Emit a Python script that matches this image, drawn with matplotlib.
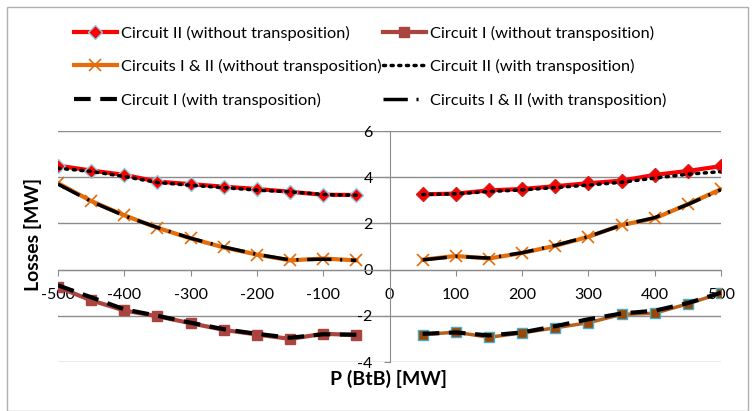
import matplotlib.pyplot as plt
from matplotlib.patches import Rectangle

# potencia BtB [MW]
p_neg = [-500, -450, -400, -350, -300, -250, -200, -150, -100, -50]
p_pos = [50, 100, 150, 200, 250, 300, 350, 400, 450, 500]

# Circuit II (without transposition)
c2_sem_neg = [4.50, 4.29, 4.10, 3.81, 3.70, 3.59, 3.49, 3.37, 3.24, 3.23]
c2_sem_pos = [3.26, 3.29, 3.43, 3.49, 3.61, 3.74, 3.85, 4.10, 4.27, 4.48]
# Circuit I (without transposition)
c1_sem_neg = [-0.76, -1.33, -1.77, -2.02, -2.32, -2.61, -2.81, -3.00, -2.78, -2.83]
c1_sem_pos = [-2.81, -2.71, -2.93, -2.74, -2.52, -2.30, -1.94, -1.89, -1.48, -1.02]
# Circuits I & II (without transposition)
c12_sem_neg = [3.74, 2.97, 2.35, 1.81, 1.35, 0.96, 0.65, 0.40, 0.48, 0.40]
c12_sem_pos = [0.43, 0.59, 0.48, 0.72, 1.03, 1.42, 1.93, 2.22, 2.83, 3.48]
# Circuit II (with transposition)
c2_com_neg = [4.39, 4.25, 4.03, 3.77, 3.65, 3.55, 3.44, 3.37, 3.25, 3.22]
c2_com_pos = [3.25, 3.28, 3.38, 3.45, 3.55, 3.66, 3.78, 3.96, 4.13, 4.24]
# Circuit I (with transposition)
c1_com_neg = [-0.68, -1.20, -1.72, -2.00, -2.30, -2.58, -2.78, -2.95, -2.80, -2.82]
c1_com_pos = [-2.78, -2.72, -2.85, -2.72, -2.45, -2.15, -1.90, -1.78, -1.45, -1.00]
# Circuits I & II (with transposition)
c12_com_neg = [3.70, 2.95, 2.33, 1.82, 1.36, 0.98, 0.66, 0.42, 0.45, 0.40]
c12_com_pos = [0.42, 0.57, 0.50, 0.73, 1.05, 1.43, 1.92, 2.25, 2.82, 3.46]

plt.rcParams['font.family'] = ['Lato', 'DejaVu Sans']
plt.rcParams['axes.unicode_minus'] = False

fig = plt.figure(figsize=(7.55, 4.11), dpi=100)
ax = fig.add_axes([58 / 755, 1 - 362 / 411, 663 / 755, 231 / 411])

cinza = '#8c8c8c'
azul = '#8fcde0'

# Circuit II (without transposition)
l1, = ax.plot(p_neg, c2_sem_neg, color='#ff0000', lw=3, marker='D', ms=7,
              mfc='#ff0000', mec=azul, mew=1, zorder=3)
ax.plot(p_pos, c2_sem_pos, color='#ff0000', lw=3, marker='D', ms=7,
        mfc='#ff0000', mec='#d02020', mew=1, zorder=3)
# Circuit I (without transposition)
l2, = ax.plot(p_neg, c1_sem_neg, color='#a9443f', lw=3, marker='s', ms=7,
              mfc='#a9443f', mec='#a9443f', zorder=3)
ax.plot(p_pos, c1_sem_pos, color='#b5601c', lw=2.5, marker='s', ms=7,
        mfc='#984807', mec='#4bacc6', mew=1, zorder=3)
# Circuits I & II (without transposition)
l3, = ax.plot(p_neg, c12_sem_neg, color='#e46c0a', lw=3, marker='x', ms=9,
              mew=1.2, zorder=3)
ax.plot(p_pos, c12_sem_pos, color='#e46c0a', lw=3, marker='x', ms=9,
        mew=1.2, zorder=3)
# Circuit II (with transposition)
l4, = ax.plot(p_neg, c2_com_neg, color='black', lw=2.5, ls=(0, (0.6, 1.6)),
              dash_capstyle='round', zorder=4)
ax.plot(p_pos, c2_com_pos, color='black', lw=2.5, ls=(0, (0.6, 1.6)),
        dash_capstyle='round', zorder=4)
# Circuit I (with transposition)
l5, = ax.plot(p_neg, c1_com_neg, color='black', lw=3, ls=(0, (4, 2.3)), zorder=4)
ax.plot(p_pos, c1_com_pos, color='black', lw=3, ls=(0, (4, 2.3)), zorder=4)
# Circuits I & II (with transposition)
l6, = ax.plot(p_neg, c12_com_neg, color='black', lw=2.5, ls=(0, (7, 2.5, 0.6, 2.5)), zorder=4)
ax.plot(p_pos, c12_com_pos, color='black', lw=2.5, ls=(0, (7, 2.5, 0.6, 2.5)), zorder=4)

ax.set_xlim(-500, 500)
ax.set_ylim(-4, 6)
ax.set_xticks(range(-500, 501, 100))
ax.set_yticks(range(-4, 7, 2))
ax.yaxis.grid(True, color=cinza, lw=1)
ax.set_axisbelow(True)

for s in ['top', 'right']:
    ax.spines[s].set_visible(False)
ax.spines['bottom'].set_position(('data', 0))
ax.spines['left'].set_position(('data', 0))
ax.spines['bottom'].set_color(cinza)
ax.spines['left'].set_color(cinza)
ax.tick_params(axis='x', direction='out', length=4, color=cinza, pad=9, labelsize=11.5)
ax.tick_params(axis='y', direction='out', length=4, color=cinza, pad=8, labelsize=11.5)

fig.text(389 / 755, 1 - 379 / 411, 'P (BtB) [MW]', ha='center', va='center',
         fontsize=14, fontweight='bold')
fig.text(33 / 755, 1 - 234 / 411, 'Losses [MW]', ha='center', va='center',
         rotation=90, fontsize=14, fontweight='bold')

handles = [l1, l3, l5, l2, l4, l6]
labels = ['Circuit II (without transposition)',
          'Circuits I & II (without transposition)',
          'Circuit I (with transposition)',
          'Circuit I (without transposition)',
          'Circuit II (with transposition)',
          'Circuits I & II (with transposition)']
fig.legend(handles, labels, ncol=2, loc='upper left',
           bbox_to_anchor=(59 / 755, 1 - 11 / 411), frameon=False,
           fontsize=11.8, handlelength=2.65, handletextpad=0.25,
           columnspacing=0.05, labelspacing=1.12)

fig.patches.append(Rectangle((7 / 755, 0), 741 / 755, 404 / 411, transform=fig.transFigure,
                             fill=False, edgecolor='#b0b0b0', lw=1))

plt.savefig('out.png', dpi=100)
